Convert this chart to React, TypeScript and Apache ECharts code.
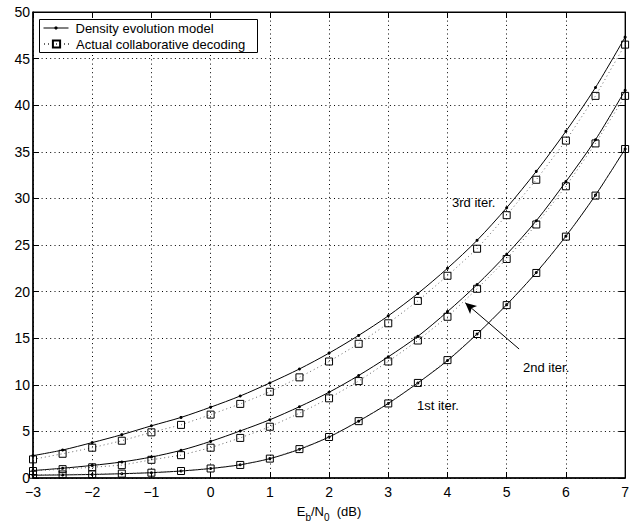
import React, { useEffect, useRef } from "react";
import * as echarts from "echarts";

const xValues = [-3, -2.5, -2, -1.5, -1, -0.5, 0, 0.5, 1, 1.5, 2, 2.5, 3, 3.5, 4, 4.5, 5, 5.5, 6, 6.5, 7];

// Density evolution model (solid lines with dots)
const model1st = [0.3, 0.33, 0.38, 0.46, 0.57, 0.75, 1.02, 1.42, 2.08, 3.08, 4.4, 6.1, 8.0, 10.2, 12.6, 15.45, 18.6, 22.05, 25.95, 30.35, 35.3];
const model2nd = [0.8, 1.05, 1.35, 1.72, 2.25, 2.97, 3.93, 5.05, 6.25, 7.65, 9.2, 11.0, 13.0, 15.2, 17.85, 20.75, 24.0, 27.6, 31.8, 36.3, 41.6];
const model3rd = [2.4, 3.0, 3.8, 4.65, 5.6, 6.5, 7.6, 8.8, 10.2, 11.7, 13.4, 15.3, 17.4, 19.8, 22.5, 25.5, 29.0, 32.9, 37.2, 41.9, 47.3];

// Actual collaborative decoding (dotted lines with squares)
const actual1st = [0.35, 0.38, 0.4, 0.47, 0.57, 0.75, 1.02, 1.4, 2.08, 3.1, 4.4, 6.1, 8.0, 10.2, 12.65, 15.45, 18.55, 22.0, 25.9, 30.3, 35.3];
const actual2nd = [0.75, 0.95, 1.15, 1.38, 1.95, 2.45, 3.25, 4.3, 5.5, 6.95, 8.55, 10.4, 12.5, 14.75, 17.3, 20.3, 23.5, 27.2, 31.3, 35.9, 41.0];
const actual3rd = [2.0, 2.6, 3.25, 4.0, 4.9, 5.7, 6.8, 7.95, 9.25, 10.8, 12.5, 14.4, 16.6, 19.0, 21.7, 24.6, 28.2, 32.0, 36.2, 41.0, 46.5];

const xTicks = { min: -3, max: 7, interval: 1 };
const yTicks = { min: 0, max: 50, interval: 5 };

// Arrow annotation (data coordinates)
const arrowFrom = [5.21, 13.84];
const arrowTo = [4.3, 18.8];

const NAME_MODEL = "Density evolution model";
const NAME_ACTUAL = "Actual collaborative decoding";
const FONT = "'Liberation Sans', Arial, Helvetica, sans-serif";

const zip = (ys: number[]) => xValues.map((x, i) => [x, ys[i]]);

const minusFmt = (v: number) => String(v).replace("-", "\u2212");

export default function App() {
  const ref = useRef<HTMLDivElement>(null);

  useEffect(() => {
    document.body.style.margin = "0";
    if (!ref.current) return;
    const chart = echarts.init(ref.current, null, { renderer: "svg" });

    const modelSeries = (data: number[], extra: any = {}) => ({
      type: "line",
      name: NAME_MODEL,
      data: zip(data),
      smooth: 0.3,
      symbol: "circle",
      symbolSize: 3,
      showSymbol: true,
      itemStyle: { color: "#000" },
      lineStyle: { color: "#000", width: 1, type: "solid" },
      z: 3,
      silent: true,
      ...extra,
    });

    const actualSeries = (data: number[]) => ({
      type: "line",
      name: NAME_ACTUAL,
      data: zip(data),
      symbol: "rect",
      symbolSize: 7,
      showSymbol: true,
      itemStyle: { color: "rgba(0,0,0,0)", borderColor: "#000", borderWidth: 1 },
      lineStyle: { color: "#666", width: 1, type: [1, 3] },
      z: 4,
      silent: true,
    });

    const legendBase = {
      left: 43,
      orient: "vertical",
      selectedMode: false,
      backgroundColor: "transparent",
      borderWidth: 0,
      padding: 0,
      itemWidth: 25,
      z: 6,
      textStyle: { fontFamily: FONT, fontSize: 13, color: "#000" },
    };

    const option: any = {
      animation: false,
      textStyle: { fontFamily: FONT, color: "#000" },
      grid: {
        left: 33,
        right: 4,
        top: 12,
        bottom: 45,
        show: true,
        borderColor: "#000",
        borderWidth: 1,
        backgroundColor: "#fff",
      },
      legend: [
        {
          ...legendBase,
          top: 21,
          itemHeight: 4,
          lineStyle: { width: 1 },
          data: [NAME_MODEL],
          textStyle: { ...legendBase.textStyle, lineHeight: 14, padding: [0, 0, 0, 2] },
        },
        {
          ...legendBase,
          top: 37,
          itemHeight: 9,
          data: [NAME_ACTUAL],
          textStyle: { ...legendBase.textStyle, lineHeight: 14, padding: [0, 0, 0, 2] },
        },
      ],
      xAxis: [
        {
          type: "value",
          position: "bottom",
          ...xTicks,
          axisLine: { show: true, onZero: false, lineStyle: { color: "#000", width: 1.5 } },
          axisTick: { show: true, inside: true, length: 6, lineStyle: { color: "#000" } },
          axisLabel: { fontFamily: FONT, fontSize: 14, color: "#000", margin: 7, lineHeight: 14, formatter: minusFmt },
          splitLine: { show: true, lineStyle: { color: "#000", width: 1, type: [1, 3.3] } },
          name: "{n|E}{s|b}{n|/N}{s|0}{n|  (dB)}",
          nameLocation: "middle",
          nameGap: 22,
          nameTextStyle: {
            fontFamily: FONT,
            color: "#000",
            rich: {
              n: { fontFamily: FONT, fontSize: 13, color: "#000" },
              s: { fontFamily: FONT, fontSize: 10, color: "#000", padding: [12, 0, 0, 0] },
            },
          },
        },
        {
          type: "value",
          position: "top",
          ...xTicks,
          axisLine: { show: true, onZero: false, lineStyle: { color: "#000", width: 1 } },
          axisTick: { show: true, inside: true, length: 6, lineStyle: { color: "#000" } },
          axisLabel: { show: false },
          splitLine: { show: false },
        },
      ],
      yAxis: [
        {
          type: "value",
          position: "left",
          ...yTicks,
          axisLine: { show: true, onZero: false, lineStyle: { color: "#000", width: 1.5 } },
          axisTick: { show: true, inside: true, length: 6, lineStyle: { color: "#000" } },
          axisLabel: { fontFamily: FONT, fontSize: 14, color: "#000", margin: 3, lineHeight: 11 },
          splitLine: { show: true, lineStyle: { color: "#000", width: 1, type: [1, 3.3] } },
        },
        {
          type: "value",
          position: "right",
          ...yTicks,
          axisLine: { show: true, onZero: false, lineStyle: { color: "#000", width: 1 } },
          axisTick: { show: true, inside: true, length: 6, lineStyle: { color: "#000" } },
          axisLabel: { show: false },
          splitLine: { show: false },
        },
      ],
      series: [
        modelSeries(model1st),
        modelSeries(model2nd, {
          markLine: {
            silent: true,
            symbol: ["none", "arrow"],
            symbolSize: [8, 11],
            label: { show: false },
            lineStyle: { color: "#000", width: 1, type: "solid" },
            data: [[{ coord: arrowFrom }, { coord: arrowTo }]],
          },
        }),
        modelSeries(model3rd),
        actualSeries(actual1st),
        actualSeries(actual2nd),
        actualSeries(actual3rd),
      ],
      graphic: [
        {
          type: "rect",
          z: 5,
          shape: { x: 39.5, y: 19.5, width: 218, height: 33 },
          style: { fill: "#fff", stroke: "#000", lineWidth: 1 },
          silent: true,
        },
        {
          type: "text",
          x: 452,
          y: 202,
          style: { text: "3rd iter.", font: `13px ${FONT}`, fill: "#000", verticalAlign: "middle" },
          z: 10,
        },
        {
          type: "text",
          x: 523,
          y: 367,
          style: { text: "2nd iter.", font: `13px ${FONT}`, fill: "#000", verticalAlign: "middle" },
          z: 10,
        },
        {
          type: "text",
          x: 417,
          y: 405,
          style: { text: "1st iter.", font: `13px ${FONT}`, fill: "#000", verticalAlign: "middle" },
          z: 10,
        },
      ],
    };

    chart.setOption(option);
    return () => chart.dispose();
  }, []);

  return <div ref={ref} style={{ width: 632, height: 527 }} />;
}
